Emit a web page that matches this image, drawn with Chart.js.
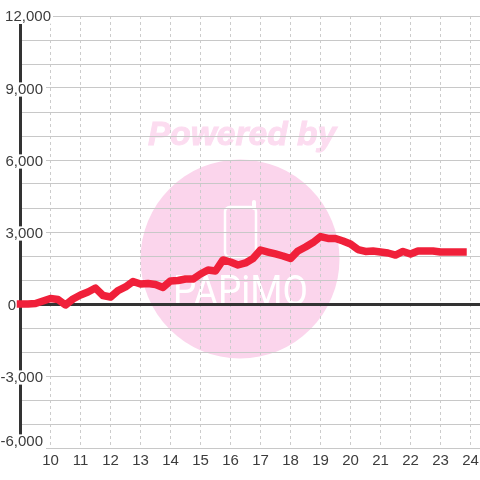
<!DOCTYPE html>
<html>
<head>
<meta charset="utf-8">
<style>html,body{margin:0;padding:0;background:#fff}canvas{display:block}</style>
<script src="https://cdn.jsdelivr.net/npm/chart.js@4"></script>
</head>
<body>
<canvas id="c" width="480" height="480"></canvas>
<script>
const hours = [9,9.25,9.5,9.75,10,10.25,10.5,10.75,11,11.25,11.5,11.75,12,12.25,12.5,12.75,13,13.25,13.5,13.75,14,14.25,14.5,14.75,15,15.25,15.5,15.75,16,16.25,16.5,16.75,17,17.25,17.5,17.75,18,18.25,18.5,18.75,19,19.25,19.5,19.75,20,20.25,20.5,20.75,21,21.25,21.5,21.75,22,22.25,22.5,22.75,23,23.25,23.5,23.75];
const values = [0,0,20,125,230,190,-40,210,375,500,665,355,290,560,710,940,835,855,810,690,960,980,1040,1040,1250,1415,1375,1835,1750,1625,1710,1895,2250,2165,2085,2000,1895,2210,2375,2560,2810,2730,2730,2625,2500,2270,2190,2210,2165,2125,2040,2190,2085,2210,2210,2210,2165,2165,2165,2165];
const xTicks = [10,11,12,13,14,15,16,17,18,19,20,21,22,23,24];
const yLabelled = [9000,6000,3000,-3000];
const yAxisStart = [11667,-5500];
const FONT = {family:"'Liberation Sans'",size:15,lineHeight:0.95};
const TEXT = '#3c3c3c';
const fmt = v => Number(v).toLocaleString('en-US');
const fitY = w => s => {
  s.width = w; s.paddingTop = 0; s.paddingBottom = 0; s.paddingLeft = 0; s.paddingRight = 0;
  s._computeLabelArea = () => undefined;
};

const watermark = {
  id:'watermark',
  beforeDraw(chart){
    const c = chart.ctx;
    c.save();
    c.fillStyle = '#fff';
    c.fillRect(0,0,480,480);
    c.fillStyle = '#fbd5ec';
    c.beginPath(); c.arc(240,259,99.5,0,Math.PI*2); c.fill();
    c.fillStyle = '#fcdcf0';
    c.strokeStyle = '#fcdcf0'; c.lineWidth = 1;
    c.font = "italic bold 33.5px 'Liberation Sans'";
    c.textAlign = 'left'; c.textBaseline = 'alphabetic';
    c.fillText('Powered by',148,145);
    c.strokeText('Powered by',148,145);
    c.strokeStyle = '#fff'; c.lineWidth = 2.5;
    c.beginPath(); c.roundRect(225,207,31,50,5); c.stroke();
    c.lineCap = 'round'; c.lineWidth = 4;
    c.beginPath(); c.moveTo(254,202); c.lineTo(254,208); c.stroke();
    c.fillStyle = '#fff';
    c.font = "400 42px Roboto";
    c.textAlign = 'left';
    c.translate(173,305); c.scale(0.88,1);
    c.fillText('PAPiMO',0,0);
    c.restore();
  }
};

new Chart(document.getElementById('c'),{
  type:'line',
  plugins:[watermark],
  data:{datasets:[
    {label:'value',data:hours.map((h,i)=>({x:h,y:values[i]})),borderColor:'#f0203a',borderWidth:7.5,
     borderCapStyle:'square',borderJoinStyle:'round',pointRadius:0,tension:0,clip:false,order:1},
    {label:'axis',data:yAxisStart.map(v=>({x:9,y:v})),borderColor:'#333333',borderWidth:3,
     pointRadius:0,clip:false,order:2}
  ]},
  options:{
    responsive:false,animation:false,
    layout:{autoPadding:false,padding:{top:16,left:0,right:0,bottom:0}},
    plugins:{legend:{display:false},tooltip:{enabled:false},title:{display:false}},
    scales:{
      x:{type:'linear',position:'bottom',min:9,max:24.3167,
        afterBuildTicks(s){s.ticks = xTicks.map(v=>({value:v}));},
        afterFit(s){s.height=32;s.paddingLeft=0;s.paddingRight=0;},
        grid:{color:'#cccccc',lineWidth:1,drawTicks:false},
        border:{display:false,dash:[3,3]},
        ticks:{font:FONT,color:TEXT,padding:6,maxRotation:0,autoSkip:false,callback:v=>String(v)}
      },
      y:{type:'linear',position:'left',min:-6000,max:12000,weight:1,
        afterFit:fitY(20.5),
        grid:{drawTicks:false,
          color:c=>c.tick.value===0?'#333333':'#c8c8c8',
          lineWidth:c=>c.tick.value===0?3:1},
        border:{display:false},
        ticks:{stepSize:1000,autoSkip:false,font:FONT,color:TEXT,padding:-22.5,labelOffset:1.5,z:2,
          callback:v=>yLabelled.includes(v)?fmt(v):'',
          showLabelBackdrop:true,
          backdropColor:c=>yLabelled.includes(c.tick.value)?'#ffffff':'rgba(0,0,0,0)',
          backdropPadding:{top:0,bottom:0,left:3,right:3}}
      },
      yTop:{type:'linear',position:'left',min:-6000,max:12000,weight:-1,
        afterBuildTicks(s){s.ticks=[{value:12000}];},
        afterFit:fitY(0),
        grid:{display:false,drawTicks:false},border:{display:false},
        ticks:{autoSkip:false,font:FONT,color:TEXT,padding:-30.5,labelOffset:0.5,z:2,callback:v=>fmt(v),
          showLabelBackdrop:true,backdropColor:'#ffffff',
          backdropPadding:{top:0,bottom:0,left:3,right:2}}
      },
      yZero:{type:'linear',position:'left',min:-6000,max:12000,weight:-2,
        afterBuildTicks(s){s.ticks=[{value:0}];},
        afterFit:fitY(0),
        grid:{display:false,drawTicks:false},border:{display:false},
        ticks:{autoSkip:false,font:FONT,color:TEXT,padding:4.5,labelOffset:1.5,z:2,callback:v=>fmt(v)}
      },
      yBottom:{type:'linear',position:'left',min:-6000,max:12000,weight:-3,
        afterBuildTicks(s){s.ticks=[{value:-6000}];},
        afterFit:fitY(0),
        grid:{display:false,drawTicks:false},border:{display:false},
        ticks:{autoSkip:false,font:FONT,color:TEXT,padding:-22.5,labelOffset:-6.5,z:2,callback:v=>fmt(v),
          showLabelBackdrop:true,backdropColor:'#ffffff',
          backdropPadding:{top:0,bottom:1,left:3,right:3}}
      }
    }
  }
});
</script>
</body>
</html>
